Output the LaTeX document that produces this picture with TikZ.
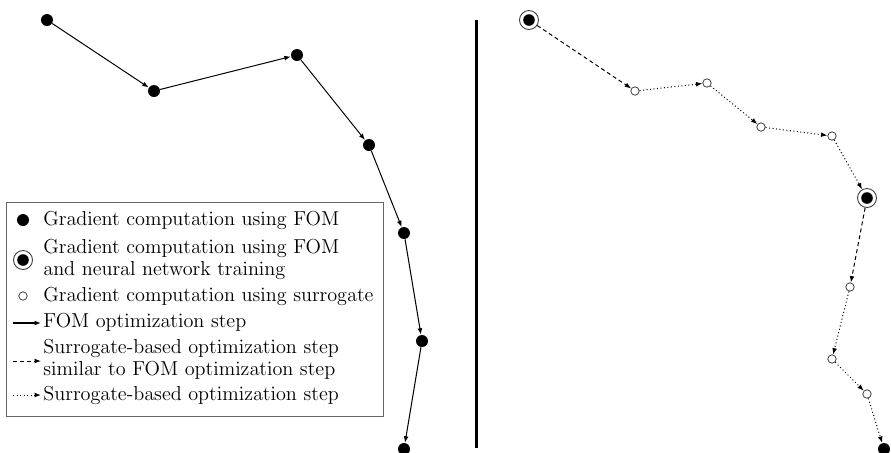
\documentclass[tikz,border=0pt]{standalone}
\usetikzlibrary{arrows.meta}
\font\legfont=cmr12 at 10.1pt
\begin{document}
\begin{tikzpicture}[x=0.5pt,y=-0.5pt,
  fom/.style={circle,fill=black,inner sep=0pt,minimum size=6pt},
  sur/.style={circle,draw=black!75,line width=0.4pt,fill=white,inner sep=0pt,minimum size=4.2pt},
  fomnn/.style={circle,draw=black!75,line width=0.45pt,inner sep=0pt,minimum size=9.5pt,
     path picture={\fill[black] (path picture bounding box.center) circle (2.9pt);}},
  fomstep/.style={-{Latex[length=3.2pt,width=2.4pt]},line width=0.5pt},
  simstep/.style={-{Latex[length=3.2pt,width=2.4pt]},line width=0.5pt,dash pattern=on 2pt off 1.5pt},
  surstep/.style={-{Latex[length=3.2pt,width=2.4pt]},line width=0.5pt,dash pattern=on 0.5pt off 1.25pt},
  legtext/.style={anchor=west,align=left,inner sep=0pt,font={\legfont\baselineskip=11pt}}
]
\useasboundingbox (0,0) rectangle (891,452);
% left chain
\node[fom] (a1) at (47,20) {};
\node[fom] (a2) at (154,91) {};
\node[fom] (a3) at (297,55) {};
\node[fom] (a4) at (369,145) {};
\node[fom] (a5) at (404,233) {};
\node[fom] (a6) at (422,341) {};
\node[fom] (a7) at (404,449) {};
\draw[fomstep] (a1) -- (a2);
\draw[fomstep] (a2) -- (a3);
\draw[fomstep] (a3) -- (a4);
\draw[fomstep] (a4) -- (a5);
\draw[fomstep] (a5) -- (a6);
\draw[fomstep] (a6) -- (a7);
% separator
\coordinate (s1) at (476,20);
\coordinate (s2) at (476,448);
\draw[line width=1.5pt] (s1) -- (s2);
% right chain
\node[fomnn] (b1) at (529,20) {};
\node[sur] (b2) at (635,91) {};
\node[sur] (b3) at (707,83) {};
\node[sur] (b4) at (761,127) {};
\node[sur] (b5) at (832,136) {};
\node[fomnn] (b6) at (867,198) {};
\node[sur] (b7) at (850,287) {};
\node[sur] (b8) at (832,359) {};
\node[sur] (b9) at (867,394) {};
\node[fom] (b10) at (884,449) {};
\draw[simstep] (b1) -- (b2);
\draw[surstep] (b2) -- (b3);
\draw[surstep] (b3) -- (b4);
\draw[surstep] (b4) -- (b5);
\draw[surstep] (b5) -- (b6);
\draw[simstep] (b6) -- (b7);
\draw[surstep] (b7) -- (b8);
\draw[surstep] (b8) -- (b9);
\draw[surstep] (b9) -- (b10);
% legend
\node[draw=black!60,line width=0.4pt,fill=white,minimum width=188.5pt,minimum height=107pt,inner sep=0pt] (box) at (194.5,309) {};
\node[fom] (l1) at (23,220) {};
\node[legtext] (t1) at (43,220) {Gradient computation using FOM};
\node[fomnn] (l2) at (23,260) {};
\node[legtext] (t2) at (43,259) {Gradient computation using FOM\\and neural network training};
\node[sur] (l3) at (23,296) {};
\node[legtext] (t3) at (43,296) {Gradient computation using surrogate};
\coordinate (l4a) at (13,323);
\coordinate (l4b) at (41,323);
\draw[-{Latex[length=3.2pt,width=2.4pt]},line width=0.9pt] (l4a) -- (l4b);
\node[legtext] (t4) at (43,323) {FOM optimization step};
\coordinate (l5a) at (13,361);
\coordinate (l5b) at (41,361);
\draw[simstep] (l5a) -- (l5b);
\node[legtext] (t5) at (43,359) {Surrogate-based optimization step\\similar to FOM optimization step};
\coordinate (l6a) at (13,395);
\coordinate (l6b) at (41,395);
\draw[surstep] (l6a) -- (l6b);
\node[legtext] (t6) at (43,395) {Surrogate-based optimization step};
\end{tikzpicture}
\end{document}
